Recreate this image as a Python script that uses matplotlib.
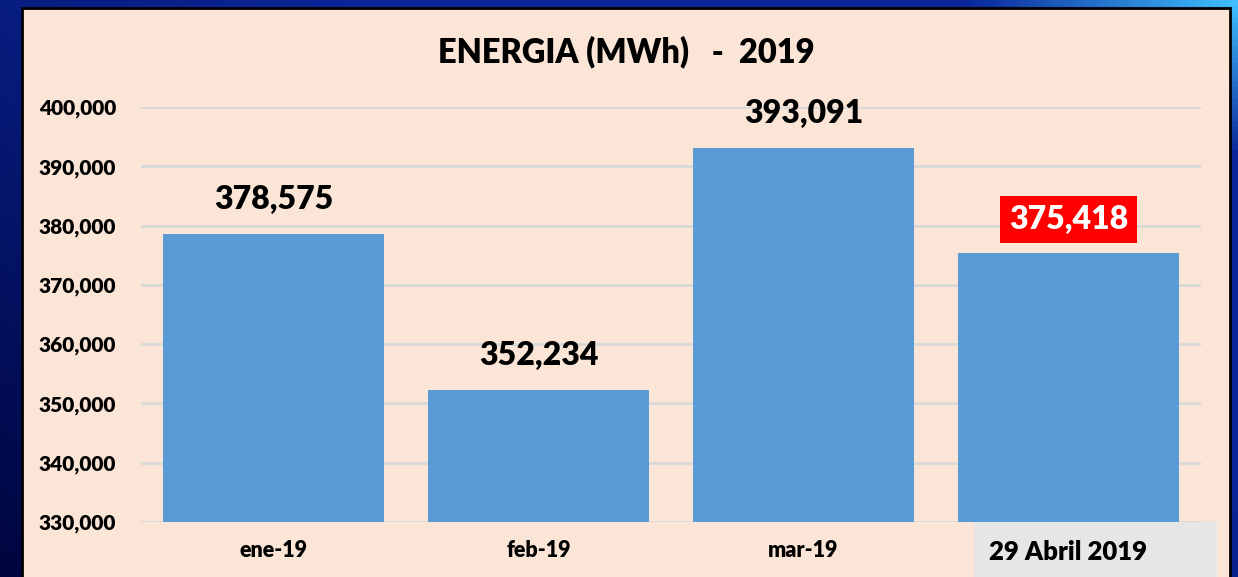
import numpy as np
import matplotlib
matplotlib.use("Agg")
import matplotlib.pyplot as plt
from matplotlib.patches import Rectangle

meses = ["ene-19", "feb-19", "mar-19", "29 Abril 2019"]
energia = [378575, 352234, 393091, 375418]
ticks_y = [330000, 340000, 350000, 360000, 370000, 380000, 390000, 400000]

plt.rcParams["font.family"] = ["Lato", "DejaVu Sans"]
W, H = 1238, 577
fig = plt.figure(figsize=(W / 100, H / 100), dpi=100)

# blue background gradient
bg = fig.add_axes([0, 0, 1, 1], zorder=-10)
xx, yy = np.meshgrid(np.linspace(0, 1, 200), np.linspace(0, 1, 100))
t = np.clip(0.55 * xx + 0.45 * yy, 0, 1)
dark = np.array([0.0, 0.02, 0.25])
mid = np.array([0.04, 0.15, 0.60])
light = np.array([0.25, 0.75, 1.0])
img = dark + (mid - dark) * np.clip(t * 1.6, 0, 1)[..., None]
hl = np.clip((t - 0.88) / 0.12, 0, 1)[..., None]
img = img * (1 - hl) + light * hl
bg.imshow(img, origin="lower", aspect="auto", extent=[0, 1, 0, 1])
bg.axis("off")

# panel
fig.patches.append(Rectangle((22 / W, -0.01), (1230 - 22) / W, (H - 8) / H + 0.01,
                             transform=fig.transFigure, facecolor="#fbe5d6",
                             edgecolor="black", linewidth=2, zorder=-5))
fig.patches.append(Rectangle((974 / W, 0), 243 / W, 56 / H,
                             transform=fig.transFigure, facecolor="#e6e6e6",
                             edgecolor="none", zorder=-4))

ax = fig.add_axes([141 / W, (H - 522) / H, 1060 / W, 415 / H])
ax.set_facecolor("none")
x = np.arange(len(meses))
ax.bar(x, energia, width=0.834, color="#5b9bd5", zorder=3)
ax.set_xlim(-0.5, 3.5)
ax.set_ylim(330000, 400000)
ax.set_yticks(ticks_y)
ax.set_yticklabels([f"{v:,}" for v in ticks_y], fontsize=15, fontweight="heavy")
ax.grid(axis="y", color="#d9d9d9", linewidth=2, zorder=0)
ax.set_xticks(x)
ax.set_xticklabels(meses, fontsize=15.5, fontweight="heavy")
ax.get_xticklabels()[3].set_fontsize(18.5)
ax.tick_params(length=0)
ax.tick_params(axis="y", pad=18)
ax.tick_params(axis="x", pad=13)
for s in ax.spines.values():
    s.set_visible(False)

for i, v in enumerate(energia):
    if i == 3:
        ax.annotate(f"{v:,}", (x[i], v), xytext=(0, 24), textcoords="offset points",
                    ha="center", va="center", fontsize=23, fontweight="heavy",
                    color="white",
                    bbox=dict(boxstyle="square,pad=0.28", facecolor="#ff0000",
                              edgecolor="none"))
    else:
        ax.annotate(f"{v:,}", (x[i], v), xytext=(0, 25), textcoords="offset points",
                    ha="center", va="center", fontsize=23, fontweight="heavy")

fig.text(626 / W, 1 - 52 / H, "ENERGIA (MWh)   -  2019", ha="center", va="center",
         fontsize=23.5, fontweight="heavy")

fig.savefig("out.png", dpi=100)
